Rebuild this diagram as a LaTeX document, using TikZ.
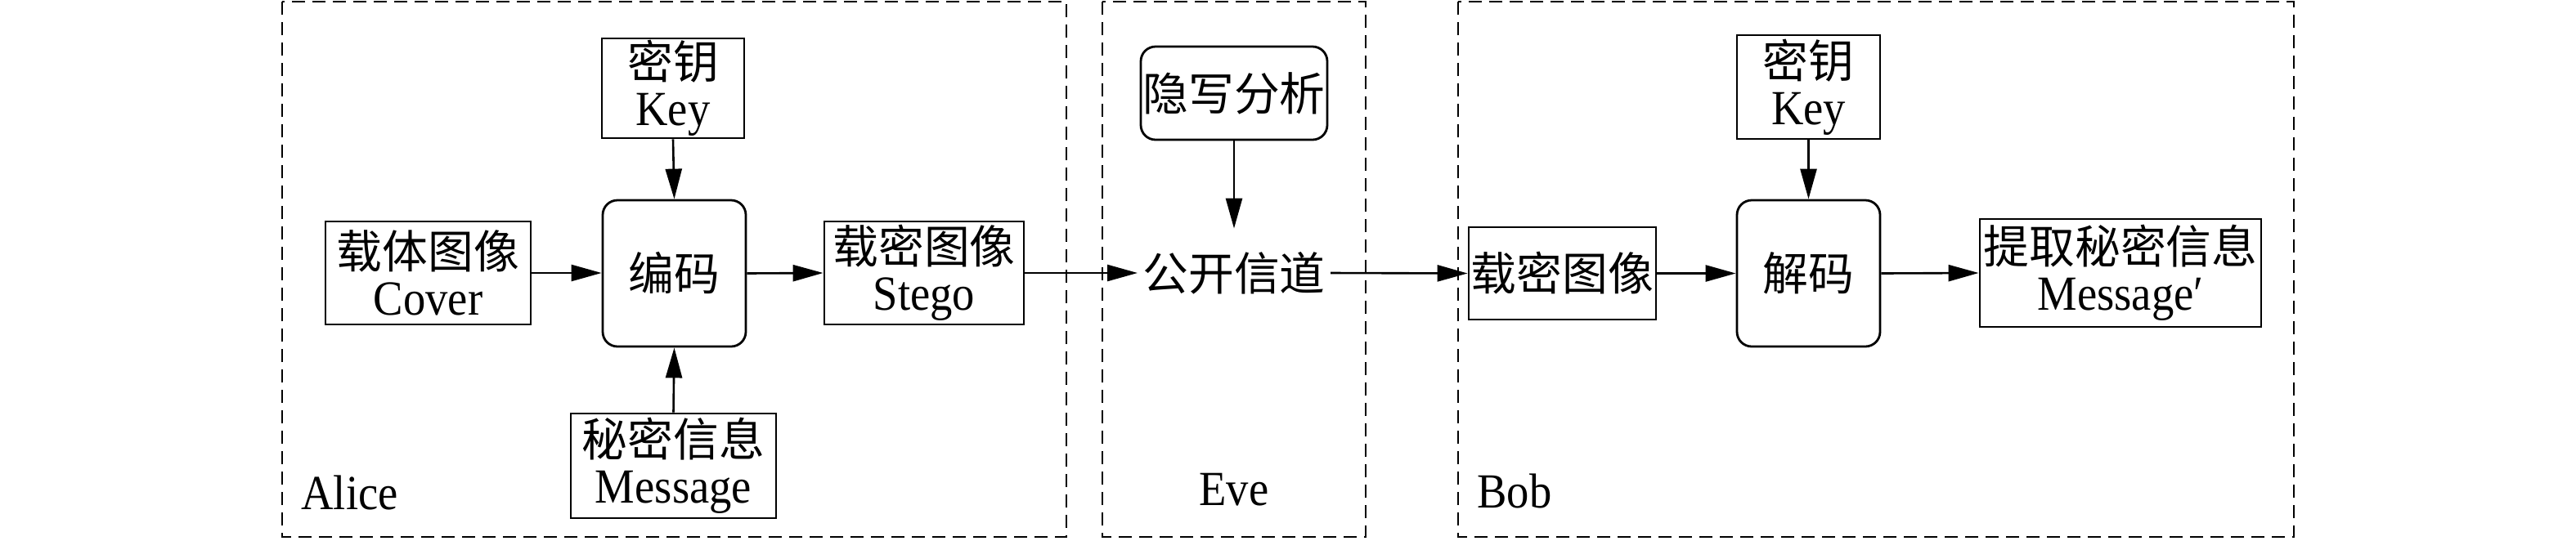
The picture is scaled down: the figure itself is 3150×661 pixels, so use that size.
\documentclass[tikz,border=0pt]{standalone}
\usepackage{fontspec}
\setmainfont{Liberation Serif}[FakeStretch=0.91]
\newfontfamily\cjk{Noto Sans CJK SC}[Scale=0.93]
\usetikzlibrary{arrows.meta}
\tikzset{
  txt/.style={font=\fontsize{30pt}{28.5pt}\selectfont, align=center, inner sep=0pt},
  blk/.style={txt, draw, line width=1.4pt},
  rblk/.style={blk, rounded corners=9pt},
  frame/.style={draw, line width=1.3pt, dash pattern=on 8pt off 4.5pt},
  arr/.style={line width=1.3pt, -{Triangle[length=18.5pt,width=10pt]}},
}
\begin{document}
\begin{tikzpicture}[x=0.5pt,y=-0.5pt]
\useasboundingbox (0,0) rectangle (3150,661);
% frames
\draw[frame] (345,2) rectangle (1304,657);
\draw[frame] (1348,2) rectangle (1670,657);
\draw[frame] (1783,2) rectangle (2805,657);
% Alice
\node[blk, minimum width=87pt, minimum height=61pt] (keyA) at (823,108) {{\cjk 密钥}\\Key};
\node[rblk, minimum width=87.5pt, minimum height=89.5pt] (enc) at (824.5,334.5) {\cjk 编码};
\node[blk, minimum width=125.5pt, minimum height=63pt] (cover) at (523.5,334) {{\cjk 载体图像}\\Cover};
\node[blk, minimum width=122pt, minimum height=63pt] (stegoA) at (1130,334) {{\cjk 载密图像}\\Stego};
\node[blk, minimum width=125.5pt, minimum height=64pt] (msg) at (823.5,570) {{\cjk 秘密信息}\\Message};
\node[txt, anchor=west] (alice) at (368,603) {Alice};
% Eve
\node[rblk, minimum width=114pt, minimum height=57pt] (ana) at (1509,114) {\cjk 隐写分析};
\node[txt, inner xsep=3pt, minimum height=54pt] (chan) at (1509,334) {\cjk 公开信道};
\node[txt] (eve) at (1509,599) {Eve};
% Bob
\node[blk, minimum width=114.5pt, minimum height=56.5pt] (stegoB) at (1910.5,334.5) {\cjk 载密图像};
\node[blk, minimum width=87.5pt, minimum height=63.5pt] (keyB) at (2211.5,106.5) {{\cjk 密钥}\\Key};
\node[rblk, minimum width=87.5pt, minimum height=89.5pt] (dec) at (2211.5,334.5) {\cjk 解码};
\node[blk, minimum width=172pt, minimum height=66pt] (out) at (2593,334) {{\cjk 提取秘密信息}\\Message′};
\node[txt, anchor=west] (bob) at (1806,601) {Bob};
% arrows
\draw[arr] (cover.east) -- (enc.west |- cover.east);
\draw[arr] (keyA.south) -- (enc.north);
\draw[arr] (msg.north) -- (enc.south);
\draw[arr] (enc.east) -- (stegoA.west);
\draw[arr] (stegoA.east) -- (chan.west);
\draw[arr] (ana.south) -- (chan.north);
\draw[arr] (chan.east) -- (stegoB.west);
\draw[arr] (stegoB.east) -- (dec.west);
\draw[arr] (keyB.south) -- (dec.north);
\draw[arr] (dec.east) -- (out.west);
\end{tikzpicture}
\end{document}
